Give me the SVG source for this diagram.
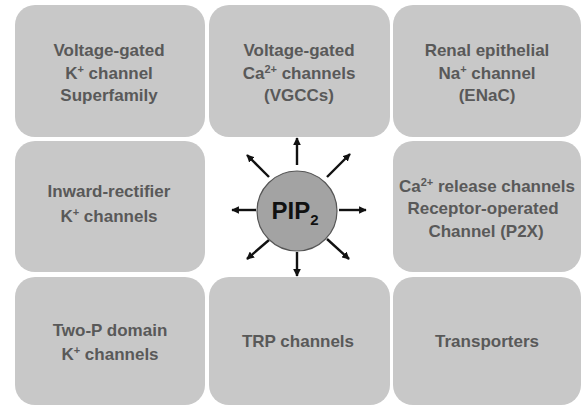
<svg xmlns="http://www.w3.org/2000/svg" width="583" height="407" viewBox="0 0 583 407">
<style>
.box{fill:#c8c8c8}
.t{font-family:"Liberation Sans",Arial,sans-serif;font-weight:bold;font-size:17px;fill:#595959;text-anchor:middle}
.a{stroke:#111;stroke-width:2.4;fill:none;marker-end:url(#ah)}
</style>
<defs>
<marker id="ah" viewBox="0 0 10 10" refX="9" refY="5" markerWidth="3.2" markerHeight="3.2" orient="auto" markerUnits="strokeWidth">
<path d="M0,0 L10,5 L0,10 z" fill="#111"/>
</marker>
</defs>
<rect width="583" height="407" fill="#fff"/>
<g id="n1"><rect class="box" x="15" y="5" width="190" height="132" rx="20"/>
<text class="t" x="109" y="56">Voltage-gated</text>
<text class="t" x="109" y="79">K<tspan font-size="11" dy="-6">+</tspan><tspan dy="6"> channel</tspan></text>
<text class="t" x="109" y="101">Superfamily</text></g>
<g id="n2"><rect class="box" x="209" y="5" width="181" height="132" rx="20"/>
<text class="t" x="299" y="56">Voltage-gated</text>
<text class="t" x="299" y="79">Ca<tspan font-size="11" dy="-6">2+</tspan><tspan dy="6"> channels</tspan></text>
<text class="t" x="299" y="101">(VGCCs)</text></g>
<g id="n3"><rect class="box" x="393" y="5" width="188" height="132" rx="20"/>
<text class="t" x="487" y="56">Renal epithelial</text>
<text class="t" x="487" y="79">Na<tspan font-size="11" dy="-6">+</tspan><tspan dy="6"> channel</tspan></text>
<text class="t" x="487" y="101">(ENaC)</text></g>
<g id="n4"><rect class="box" x="15" y="141" width="190" height="131" rx="20"/>
<text class="t" x="109" y="197">Inward-rectifier</text>
<text class="t" x="109" y="222">K<tspan font-size="11" dy="-6">+</tspan><tspan dy="6"> channels</tspan></text></g>
<g id="n5"><rect class="box" x="393" y="141" width="188" height="131" rx="20"/>
<text class="t" x="487" y="192">Ca<tspan font-size="11" dy="-6">2+</tspan><tspan dy="6"> release channels</tspan></text>
<text class="t" x="483" y="214">Receptor-operated</text>
<text class="t" x="486" y="237">Channel (P2X)</text></g>
<g id="n6"><rect class="box" x="15" y="277" width="190" height="128" rx="20"/>
<text class="t" x="110" y="336">Two-P domain</text>
<text class="t" x="110" y="360">K<tspan font-size="11" dy="-6">+</tspan><tspan dy="6"> channels</tspan></text></g>
<g id="n7"><rect class="box" x="209" y="277" width="181" height="128" rx="20"/>
<text class="t" x="298" y="347">TRP channels</text></g>
<g id="n8"><rect class="box" x="393" y="277" width="188" height="128" rx="20"/>
<text class="t" x="487" y="347">Transporters</text></g>
<g id="connectors">
<line class="a" x1="297" y1="165" x2="297" y2="138"/>
<line class="a" x1="297" y1="252" x2="297" y2="276"/>
<line class="a" x1="256" y1="210" x2="232" y2="210"/>
<line class="a" x1="339" y1="210" x2="366" y2="210"/>
<line class="a" x1="269" y1="177" x2="247" y2="155"/>
<line class="a" x1="327" y1="177" x2="350" y2="154"/>
<line class="a" x1="269" y1="240" x2="247" y2="259"/>
<line class="a" x1="327" y1="239" x2="349" y2="259"/>
</g>
<g id="pip2">
<circle cx="297" cy="211" r="40" fill="#a3a3a3" stroke="#555" stroke-width="1.2"/>
<text x="295" y="219" font-family="Liberation Sans,Arial,sans-serif" font-weight="bold" font-size="24" fill="#111" text-anchor="middle">PIP<tspan font-size="15" dy="6">2</tspan></text>
</g>
</svg>
